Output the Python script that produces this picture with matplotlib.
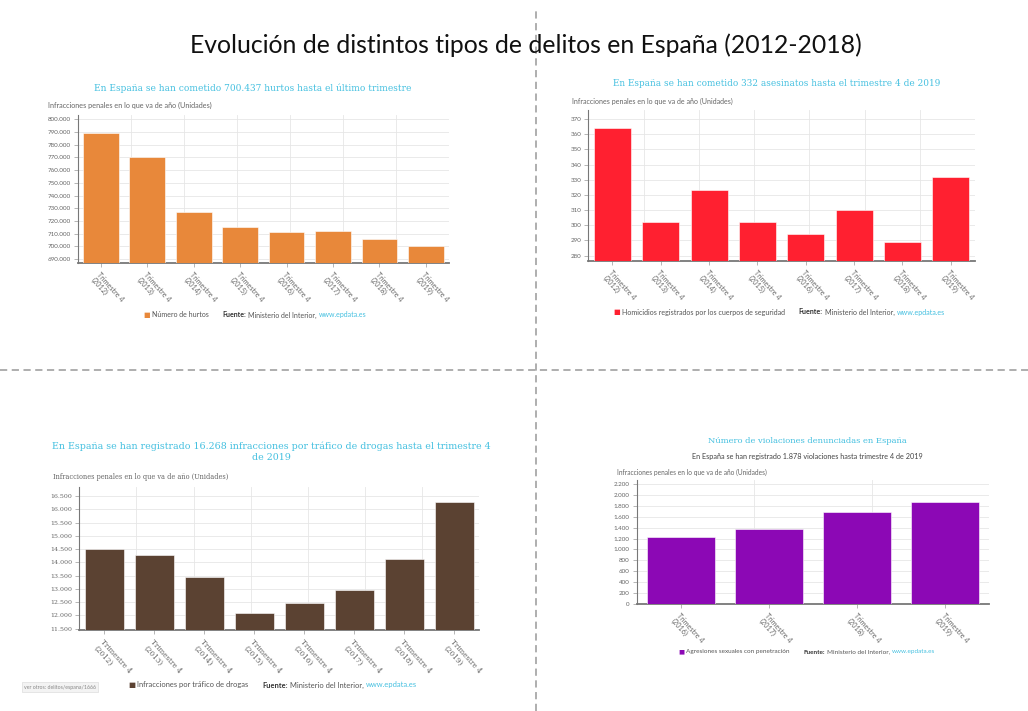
import numpy as np
import matplotlib
matplotlib.use("Agg")
import matplotlib.pyplot as plt
from matplotlib.lines import Line2D
from matplotlib.ticker import MultipleLocator, LinearLocator, FuncFormatter

W, H = 1028, 711

# Data
hurtos_years = [2012, 2013, 2014, 2015, 2016, 2017, 2018, 2019]
hurtos = [789500, 770000, 727300, 715300, 711200, 712400, 705600, 700437]

asesinatos_years = [2012, 2013, 2014, 2015, 2016, 2017, 2018, 2019]
asesinatos = [364, 302, 323, 302, 294, 310, 289, 332]

drogas_years = [2012, 2013, 2014, 2015, 2016, 2017, 2018, 2019]
drogas = [14500, 14280, 13430, 12080, 12460, 12950, 14140, 16268]

violaciones_years = [2016, 2017, 2018, 2019]
violaciones = [1235, 1375, 1690, 1878]

CYAN = "#45c0e0"
YLABEL = "Infracciones penales en lo que va de año (Unidades)"


def miles(v, pos):
    return f"{v:,.0f}".replace(",", ".")


def px_rect(left, top, right, bottom):
    return [left / W, 1 - bottom / H, (right - left) / W, (bottom - top) / H]


def rich_text(fig, x_px, y_px, parts, size=5):
    renderer = fig.canvas.get_renderer()
    x = x_px
    for text, color, weight, family, gap in parts:
        t = fig.text(x / W, 1 - y_px / H, text, color=color, fontsize=size,
                     fontweight=weight, family=family, ha="left", va="center")
        x += t.get_window_extent(renderer=renderer).width + gap


def bar_panel(fig, rect, years, values, color, ylim, ystep, ngrid, tick_family="Lato"):
    ax = fig.add_axes(px_rect(*rect))
    x = np.arange(len(values))
    ax.bar(x, values, width=0.77, color=color, edgecolor="white", linewidth=0.4, zorder=3)
    ax.set_xlim(-0.5, len(values) - 0.5)
    ax.set_ylim(*ylim)
    ax.yaxis.set_major_locator(MultipleLocator(ystep))
    ax.yaxis.set_major_formatter(FuncFormatter(miles))
    ax.xaxis.set_minor_locator(LinearLocator(ngrid + 1))
    ax.grid(axis="y", which="major", color="#e6e6e6", lw=0.6, zorder=0)
    ax.grid(axis="x", which="minor", color="#e6e6e6", lw=0.6, zorder=0)
    ax.set_xticks(x)
    ax.set_xticklabels([f"Trimestre 4\n({y})" for y in years], rotation=-48,
                       ha="left", va="top", rotation_mode="anchor",
                       fontsize=5.2, color="#666666", family=tick_family, linespacing=1.15)
    for lab in ax.get_yticklabels():
        lab.set_fontsize(4.5)
        lab.set_color("#666666")
        lab.set_family(tick_family)
    ax.tick_params(axis="x", which="major", length=3, width=0.5, color="#999999", pad=3)
    ax.tick_params(axis="x", which="minor", length=0)
    ax.tick_params(axis="y", length=3, width=0.5, color="#999999", pad=2)
    for s in ("top", "right"):
        ax.spines[s].set_visible(False)
    ax.spines["left"].set_color("#777777")
    ax.spines["left"].set_linewidth(0.8)
    ax.spines["bottom"].set_color("#777777")
    ax.spines["bottom"].set_linewidth(1.3)
    return ax


fig = plt.figure(figsize=(W / 100, H / 100), dpi=100)

fig.text(526 / W, 1 - 45 / H, "Evolución de distintos tipos de delitos en España (2012-2018)",
         fontsize=17.8, family="Lato", color="#111111", ha="center", va="center")

# dashed separators
fig.add_artist(Line2D([536 / W, 536 / W], [0, 1 - 8 / H], transform=fig.transFigure,
                      color="#a8a8a8", lw=1.3, ls=(0, (4, 2.5))))
fig.add_artist(Line2D([0, 1], [1 - 370 / H, 1 - 370 / H], transform=fig.transFigure,
                      color="#a8a8a8", lw=1.3, ls=(0, (4, 2.5))))

# panel 1: hurtos
bar_panel(fig, (77.7, 115, 449, 262.7), hurtos_years, hurtos, "#e8883a",
          (687100, 803400), 10000, 7)
fig.text(253 / W, 1 - 88 / H, "En España se han cometido 700.437 hurtos hasta el último trimestre",
         fontsize=6.45, family="DejaVu Serif", color=CYAN, ha="center", va="center")
fig.text(48 / W, 1 - 105 / H, YLABEL, fontsize=5.2, family="Lato", color="#666666", va="center")

# panel 2: asesinatos
bar_panel(fig, (588.3, 110, 975, 260.7), asesinatos_years, asesinatos, "#ff2030",
          (276.7, 375.9), 10, 7)
fig.text(777 / W, 1 - 83 / H, "En España se han cometido 332 asesinatos hasta el trimestre 4 de 2019",
         fontsize=6.4, family="DejaVu Serif", color=CYAN, ha="center", va="center")
fig.text(572 / W, 1 - 101 / H, YLABEL, fontsize=5.1, family="Lato", color="#666666", va="center")

# panel 3: drogas
bar_panel(fig, (79.3, 486.7, 479.3, 630), drogas_years, drogas, "#5b4232",
          (11450, 16850), 500, 7, tick_family="DejaVu Serif")
fig.text(271 / W, 1 - 452 / H,
         "En España se han registrado 16.268 infracciones por tráfico de drogas hasta el trimestre 4\nde 2019",
         fontsize=6.8, family="DejaVu Serif", color=CYAN, ha="center", va="center",
         linespacing=1.3)
fig.text(53 / W, 1 - 477 / H, YLABEL, fontsize=4.7, family="DejaVu Serif", color="#666666", va="center")

# panel 4: violaciones
bar_panel(fig, (636.7, 480, 989.3, 603.7), violaciones_years, violaciones, "#8c08b5",
          (0, 2280), 200, 3)
fig.text(807 / W, 1 - 441 / H, "Número de violaciones denunciadas en España",
         fontsize=6.0, family="DejaVu Serif", color=CYAN, ha="center", va="center")
fig.text(807 / W, 1 - 456 / H, "En España se han registrado 1.878 violaciones hasta trimestre 4 de 2019",
         fontsize=5.2, family="Lato", color="#444444", ha="center", va="center")
fig.text(617 / W, 1 - 472 / H, YLABEL, fontsize=4.75, family="Lato", color="#666666", va="center")


# legends / sources
def legend_line(x, y, color, label, size=5):
    rich_text(fig, x, y, [
        ("■", color, "normal", "DejaVu Sans", 2),
        (label, "#555555", "normal", "Lato", 14),
        ("Fuente:", "#333333", "bold", "Lato", 2),
        ("Ministerio del Interior,", "#555555", "normal", "Lato", 2),
        ("www.epdata.es", CYAN, "normal", "Lato", 0),
    ], size=size)


legend_line(143, 315, "#e8883a", "Número de hurtos")
legend_line(613, 312, "#ff2030", "Homicidios registrados por los cuerpos de seguridad", size=5.1)
legend_line(128, 685, "#5b4232", "Infracciones por tráfico de drogas", size=5.4)
legend_line(678, 652, "#8c08b5", "Agresiones sexuales con penetración", size=4.6)

fig.text(24 / W, 1 - 687 / H, "ver otros: delitos/espana/1666", fontsize=3.8, color="#888888",
         family="Lato", va="center",
         bbox=dict(fc="#f3f3f3", ec="#dddddd", lw=0.5, boxstyle="square,pad=0.4"))

fig.savefig("out.png", dpi=100)
